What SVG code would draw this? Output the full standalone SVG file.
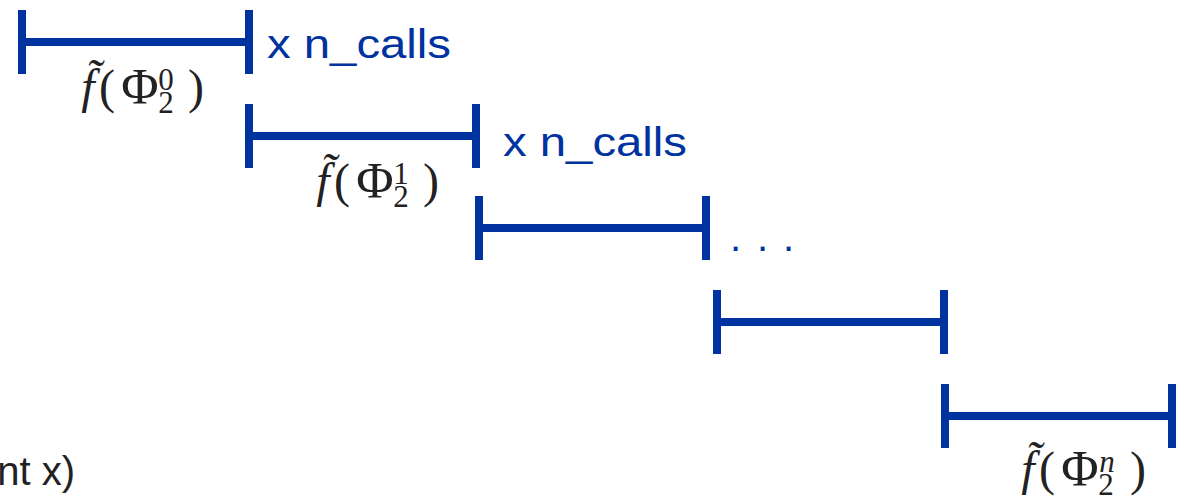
<svg xmlns="http://www.w3.org/2000/svg" width="1184" height="498" viewBox="0 0 1184 498">
  <style>
    .bar { stroke: #0033a0; stroke-width: 8; fill: none; stroke-linecap: butt; }
    .note { font-family: "Liberation Sans", Arial, sans-serif; font-size: 40px; fill: #0033a0; }
    .plain { font-family: "Liberation Sans", Arial, sans-serif; font-size: 40px; fill: #222222; }
    .math { font-family: "Liberation Serif", "DejaVu Serif", serif; font-size: 48px; fill: #222222; text-anchor: middle; }
    .math .it { font-style: italic; }
    .math .big { font-size: 51px; }
    .math .sc { font-size: 31px; }
  </style>
  <defs>
    <!-- one interval: a horizontal span with end ticks, 227 wide, centred vertically on y=0 -->
    <g id="span">
      <line class="bar" x1="0" y1="0" x2="227" y2="0"/>
      <line class="bar" x1="0" y1="-32" x2="0" y2="32"/>
      <line class="bar" x1="227" y1="-32" x2="227" y2="32"/>
    </g>
  </defs>

  <!-- interval bars -->
  <g id="connectors">
    <use id="span-0" href="#span" transform="translate(22,42)"/>
    <use id="span-1" href="#span" transform="translate(249,136)"/>
    <use id="span-2" href="#span" transform="translate(479,228)"/>
    <use id="span-3" href="#span" transform="translate(717,322)"/>
    <use id="span-4" href="#span" transform="translate(945,416)"/>
  </g>

  <!-- repetition notes -->
  <g id="note-0">
    <text class="note" x="267" y="58" textLength="184" lengthAdjust="spacingAndGlyphs">x n_calls</text>
  </g>
  <g id="note-1">
    <text class="note" x="503" y="156" textLength="184" lengthAdjust="spacingAndGlyphs">x n_calls</text>
  </g>
  <g id="ellipsis">
    <text class="note" x="730 757 783" y="251">...</text>
  </g>

  <!-- function labels: f~(Phi_2^k) -->
  <g id="label-0" transform="translate(77,103)">
    <text class="math"><tspan class="it" x="11" y="0">f̃</tspan><tspan x="30" y="0">(</tspan><tspan class="big" x="63" y="0">Φ</tspan><tspan class="sc" x="89" y="-13">0</tspan><tspan class="sc" x="89" y="10">2</tspan><tspan x="119" y="0">)</tspan></text>
  </g>
  <g id="label-1" transform="translate(312,197)">
    <text class="math"><tspan class="it" x="11" y="0">f̃</tspan><tspan x="30" y="0">(</tspan><tspan class="big" x="63" y="0">Φ</tspan><tspan class="sc" x="89" y="-13">1</tspan><tspan class="sc" x="89" y="10">2</tspan><tspan x="119" y="0">)</tspan></text>
  </g>
  <g id="label-n" transform="translate(1017,485)">
    <text class="math"><tspan class="it" x="11" y="0">f̃</tspan><tspan x="30" y="0">(</tspan><tspan class="big" x="63" y="0">Φ</tspan><tspan class="sc it" x="90" y="-13">n</tspan><tspan class="sc" x="89" y="10">2</tspan><tspan x="121" y="0">)</tspan></text>
  </g>

  <!-- trailing text at the lower left edge -->
  <g id="caption">
    <text class="plain" x="75" y="485" text-anchor="end">nt x)</text>
  </g>
</svg>
